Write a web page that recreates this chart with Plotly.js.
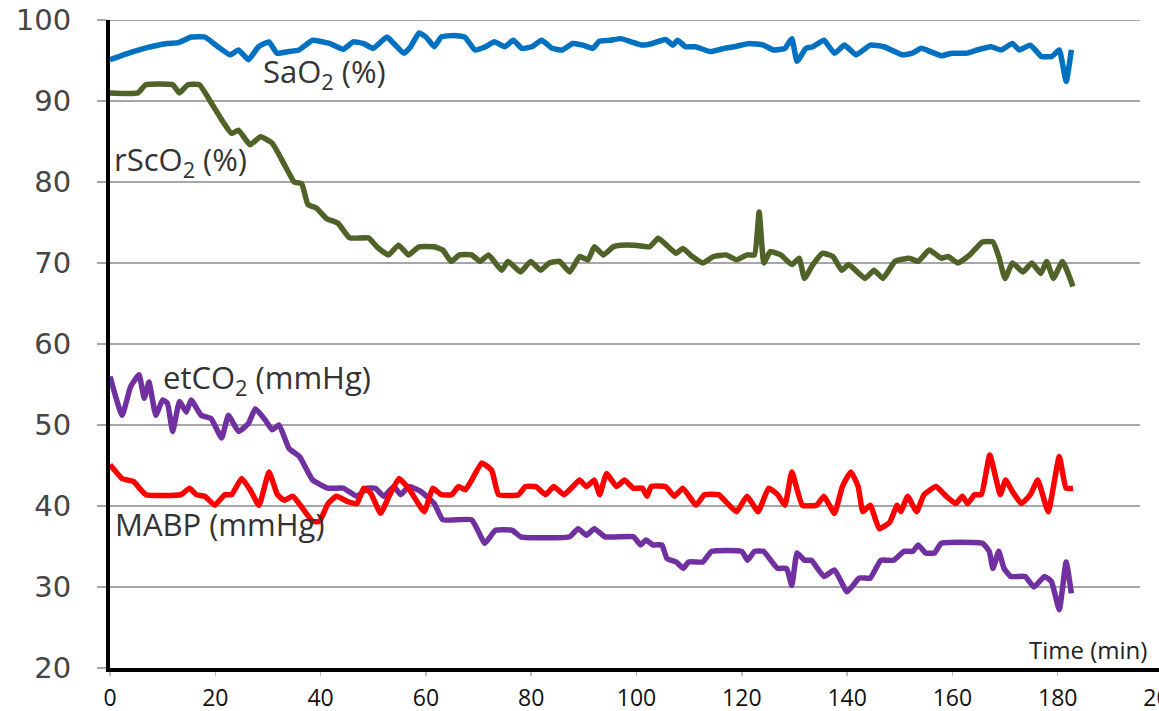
<!DOCTYPE html>
<html>
<head>
<meta charset="utf-8">
<script src="https://cdn.plot.ly/plotly-3.0.1.min.js"></script>
<style>
html,body{margin:0;padding:0;overflow:hidden;background:#fff;}
#chart{width:1190px;height:711px;}
</style>
</head>
<body>
<div id="chart"></div>
<script>
// ---- data ----
var sao2T = [0,3,6.5,10.9,13,15.4,18,20.5,22.8,24.4,26.3,28.2,30.2,31.7,33.9,35.9,38.5,41.7,44.3,46.2,48.1,50,52.6,53.9,55.8,57.1,58.7,60,61.6,62.9,65.4,67.4,69.3,71.3,73,75,76.6,78.2,80.1,82,84,85.9,87.9,89.8,91.7,93,95,97,99,101.1,103,105.5,106.9,107.8,109.3,111.2,114,116.7,118.6,121.4,124.1,126,128.2,129.5,130.5,132.2,133.5,135.6,137.6,139.5,141.7,144.4,147,150.5,152.4,154.1,155.8,157.9,159.9,162.6,164.7,167.3,169.3,171.4,172.7,174.8,176.9,178.9,180.3,181.6,182.6];
var sao2V = [95.1,95.8,96.5,97.1,97.2,97.9,97.9,96.7,95.7,96.3,95.1,96.7,97.3,95.9,96.1,96.3,97.5,97.1,96.4,97.3,97.1,96.5,97.9,97.1,95.9,96.7,98.4,97.9,96.7,97.9,98.1,97.9,96.3,96.7,97.3,96.7,97.5,96.5,96.7,97.5,96.5,96.3,97.1,96.9,96.5,97.4,97.5,97.7,97.3,96.9,97.1,97.6,96.9,97.5,96.7,96.7,96.1,96.5,96.7,97.1,96.9,96.3,96.5,97.7,94.9,96.5,96.7,97.5,95.9,96.9,95.7,96.9,96.7,95.7,95.9,96.5,96.1,95.6,95.9,95.9,96.3,96.7,96.3,97.1,96.3,96.9,95.5,95.5,96.3,92.4,96.3];

var rsco2T = [0,5.3,6.8,11.9,13.2,14.8,17,19.3,21.2,23.1,24.4,26.6,28.6,30.8,33,35,36.4,37.6,39.2,41.1,43.3,45.5,49.1,50.7,52.9,54.8,56.7,58.7,61.6,63.2,64.8,66.4,68.7,70.3,71.9,74.4,75.6,78,79.9,81.8,83.4,85.4,87.3,89.2,90.8,92,93.7,95.6,97,99.7,102.5,104.1,105.4,107.5,108.8,110.6,112.6,114.6,117,119,121,122.4,123.3,124.2,125.4,127.4,129.5,130.9,131.9,133.5,135.3,137.3,139,140.3,143.4,145.1,146.8,149.1,151.8,153.5,155.6,157.9,159.2,161,163.3,165.7,167.7,168.8,170,171.4,173.4,175.1,176.8,177.9,179.2,180.9,182.9];
var rsco2V = [91,91,92,92,91,92,92,89.7,87.7,86,86.4,84.6,85.6,84.8,82.3,80,79.8,77.2,76.8,75.5,74.9,73.1,73.1,72,71,72.2,71,72,72,71.6,70.2,71,71,70.2,71,69.1,70.2,68.9,70.2,69.1,70,70.2,68.9,70.8,70.4,72,71,72,72.2,72.2,72,73.05,72.4,71.2,71.8,70.8,70,70.8,71,70.4,71,71,76.3,70,71.4,71,69.8,70.6,68.1,69.8,71.2,70.8,69.1,69.8,68.1,69.1,68.1,70.2,70.6,70.2,71.6,70.6,70.8,70,71,72.6,72.6,70.8,68.1,70,68.9,70,68.7,70.2,68.1,70.2,67.1];

var etco2T = [0,2.3,3.9,5.5,6.5,7.4,8.7,10,10.9,11.9,13.2,14.5,15.4,17.3,19.2,21.2,22.5,24.4,26.3,27.6,29.5,30.8,32.1,34,36,38.5,41.4,44.3,46.9,48.8,50.4,52,53.9,55.2,56.8,59,61.6,63.2,68.7,71.2,73.2,76.4,78,87.3,88.9,90.5,92,94,99.4,100.8,101.8,103.1,104.8,105.8,107.5,108.9,109.9,112.6,114.3,120,121.1,122.4,124.1,126.8,128.5,129.5,130.5,131.9,133.2,135.6,137.6,140,142.3,144.4,146.4,148.8,150.8,152.5,153.5,154.9,156.6,157.9,165.7,167,167.7,168.8,169.8,171.1,173.8,175.5,177.5,178.8,180.3,181.6,182.6];
var etco2V = [56,51.2,54.7,56.2,53.3,55.3,51.2,53.1,52.7,49.2,52.9,51.6,53.1,51.2,50.8,48.4,51.2,49.2,50.2,52,50.6,49.4,50,47.1,46.1,43.2,42.2,42.2,41.2,42.2,42.2,41.2,42.4,41.4,42.4,41.8,40.3,38.3,38.3,35.4,37,37,36.2,36.2,37.2,36.4,37.2,36.2,36.2,35.2,35.8,35.2,35.2,33.5,33.1,32.3,33.1,33.1,34.4,34.4,33.3,34.4,34.4,32.3,32.3,30.2,34.2,33.3,33.3,31.3,32.1,29.4,31.1,31.1,33.3,33.3,34.4,34.4,35.2,34.2,34.2,35.4,35.4,34.4,32.3,34.4,32.3,31.3,31.3,30,31.3,30.7,27.2,33.1,29.2];

var mabpT = [0,2.3,4.5,6.8,13.5,15.1,16.4,18,19.9,21.8,23.1,25,26.6,28.3,30.2,31.8,33.1,34.7,36.6,38.5,39.8,41.4,43,45.3,46.9,48.2,49.5,51.4,53,54.9,56.9,59.7,61.3,62.9,64.9,66.2,67.5,68.7,70.6,72.5,73.8,77.6,78.9,80.9,82.7,84.3,86.2,87.9,89.2,90.5,92,93,94.3,96.2,97.7,99.4,101.1,102,102.8,105.5,107.2,108.8,111.3,112.9,115.6,117.3,119,121,123.1,125.1,126.8,128.2,129.5,131.5,134.2,135.6,137.6,139.1,140.7,142.1,143,144.4,146.1,148.1,149.5,150.2,151.5,153.2,154.6,156.9,158.5,160.6,161.9,162.9,164.2,165.5,167.1,169.1,170.1,171.4,173.1,174.8,176.2,178.2,180.3,181.6,182.9];
var mabpV = [45.1,43.4,43,41.4,41.4,42.2,41.4,41.2,40.1,41.4,41.4,43.4,42,40.1,44.2,41.4,40.7,41.2,39.7,38.1,38.1,40.3,41.2,40.5,40.3,42.2,41.6,39.1,41.2,43.4,42,39.3,42.2,41.4,41.4,42.4,42,43.2,45.3,44.4,41.4,41.4,42.4,42.4,41.4,42.4,41.4,42.4,43.2,42.4,43.2,41.4,44,42.4,43.2,42.2,42.2,41.2,42.4,42.4,41.2,42.2,40.1,41.4,41.4,40.3,39.3,41.2,39.3,42.2,41.4,40.1,44.2,40.1,40.1,41.2,39.1,42.4,44.2,42.4,39.3,40.1,37.2,38,40.1,39.3,41.2,39.3,41.4,42.4,41.4,40.3,41.2,40.3,41.4,41.4,46.3,41.4,43.2,41.8,40.3,41.4,43.2,39.3,46.1,42.2,42.2];

var yTicks = [20,30,40,50,60,70,80,90,100];
var xTicks = [0,20,40,60,80,100,120,140,160,180,200];
var seriesNames = ['SaO<sub>2</sub> (%)','rScO<sub>2</sub> (%)','etCO<sub>2</sub> (mmHg)','MABP (mmHg)'];
var seriesColors = ['#0070C0','#4F6228','#7030A0','#FF0000'];

function tr(x,y,i){
  return {x:x,y:y,type:'scatter',mode:'lines',name:seriesNames[i],
    line:{color:seriesColors[i],width:5.5,shape:'spline',smoothing:0.4},hoverinfo:'skip'};
}
var data = [tr(sao2T,sao2V,0),tr(rsco2T,rsco2V,1),tr(etco2T,etco2V,2),tr(mabpT,mabpV,3)];

var gridShapes = yTicks.filter(function(v){return v>20;}).map(function(v){
  return {type:'line',xref:'x',yref:'y',x0:0,x1:195.6,y0:v,y1:v,
    line:{color:'#A6A6A6',width:2},layer:'below'};
});

var labelFont = {family:'Open Sans, Noto Sans, sans-serif',size:31,color:'#333333'};
var annotations = [
  {text:seriesNames[0],x:28.7,y:93.5,xref:'x',yref:'y',xanchor:'left',yanchor:'middle',showarrow:false,font:labelFont},
  {text:seriesNames[1],x:0.3,y:82.6,xref:'x',yref:'y',xanchor:'left',yanchor:'middle',showarrow:false,font:labelFont},
  {text:seriesNames[2],x:9.6,y:55.7,xref:'x',yref:'y',xanchor:'left',yanchor:'middle',showarrow:false,font:labelFont},
  {text:seriesNames[3],x:0.6,y:37.8,xref:'x',yref:'y',xanchor:'left',yanchor:'middle',showarrow:false,font:labelFont},
  {text:'Time (min)',x:197.4,y:22.3,xref:'x',yref:'y',xanchor:'right',yanchor:'middle',showarrow:false,
   font:{family:'Open Sans, Noto Sans, sans-serif',size:24,color:'#222222'}}
];

var layout = {
  width:1190,height:711,
  margin:{l:110,r:27,t:20,b:43,pad:0},
  paper_bgcolor:'#ffffff',plot_bgcolor:'#ffffff',
  showlegend:false,
  xaxis:{range:[0,200],tickvals:xTicks,ticktext:xTicks.map(String),showgrid:false,zeroline:false,
    showline:true,linecolor:'#000000',linewidth:4,ticks:'outside',ticklen:4,tickwidth:1.5,tickcolor:'#BBBBBB',
    ticklabelstandoff:2,
    tickfont:{family:'Open Sans, Noto Sans, sans-serif',size:23,color:'#111111'},fixedrange:true},
  yaxis:{range:[20,100],tickvals:yTicks,ticktext:yTicks.map(String),showgrid:false,zeroline:false,
    showline:true,linecolor:'#000000',linewidth:4,ticks:'outside',ticklen:9,tickwidth:2,tickcolor:'#A6A6A6',
    ticklabelstandoff:20,
    tickfont:{family:'DejaVu Sans, sans-serif',size:29,color:'#454545'},fixedrange:true},
  shapes:gridShapes,
  annotations:annotations
};
Plotly.newPlot('chart',data,layout,{displayModeBar:false,staticPlot:true});
</script>
</body>
</html>
